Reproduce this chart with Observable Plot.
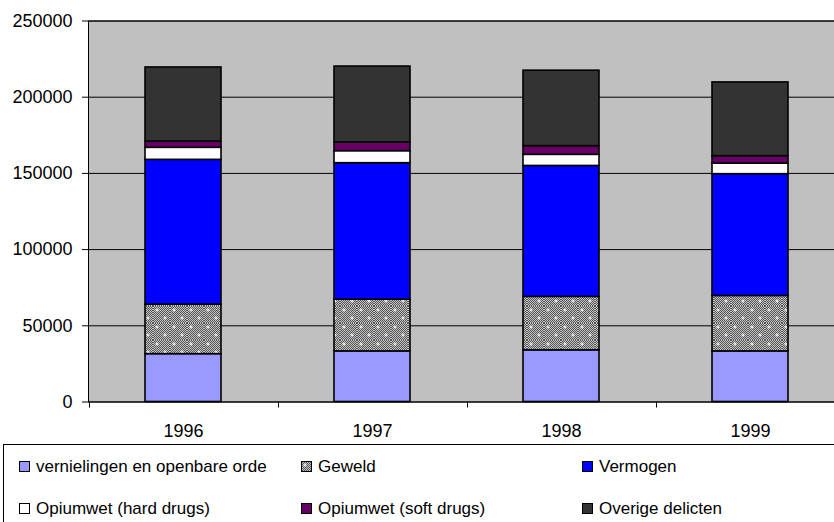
<!DOCTYPE html>
<html>
<head>
<meta charset="utf-8">
<script src="https://cdn.jsdelivr.net/npm/d3@7"></script>
<script src="https://cdn.jsdelivr.net/npm/@observablehq/plot@0.6"></script>
<style>
  html, body { margin: 0; padding: 0; background: #fff; }
  #wrap { position: relative; width: 834px; height: 522px; overflow: hidden; font-family: "Liberation Sans", Arial, sans-serif; }
  #chart { position: absolute; left: 0; top: 0; width: 844px; height: 444px; }
  #chart svg { max-width: none !important; display: block; }
  #legend { position: absolute; left: 3px; top: 444px; width: 900px; height: 100px; border: 1px solid #000; background: #fff; }
  .item { position: absolute; height: 11px; line-height: 11px; font-size: 17px; white-space: nowrap; display: flex; align-items: center; color: #000; }
  .item svg { display: block; margin-right: 6px; flex: none; }
</style>
</head>
<body>
<div id="wrap"><div id="chart"></div><div id="legend"></div></div>
<script>
const years = ["1996", "1997", "1998", "1999"];
const series = ["vernielingen en openbare orde", "Geweld", "Vermogen", "Opiumwet (hard drugs)", "Opiumwet (soft drugs)", "Overige delicten"];
const vernielingen = [31400, 33200, 33900, 33200];
const geweld = [32500, 34000, 35100, 36400];
const vermogen = [95000, 89500, 85900, 79900];
const hardDrugs = [7900, 7900, 7300, 6900];
const softDrugs = [4100, 5700, 5700, 4900];
const overige = [48600, 49800, 49500, 48400];
const yTicks = [0, 50000, 100000, 150000, 200000, 250000];
const colors = ["#9999FF", "url(#geweldPattern)", "#0000FF", "#FFFFFF", "#660066", "#333333"];

const seriesValues = [vernielingen, geweld, vermogen, hardDrugs, softDrugs, overige];
const rows = [];
series.forEach((s, si) => years.forEach((yr, yi) => rows.push({ year: yr, series: s, value: seriesValues[si][yi] })));

const plot = Plot.plot({
  width: 844,
  height: 444,
  marginLeft: 88,
  marginRight: 0,
  marginTop: 20.5,
  marginBottom: 42.5,
  style: { fontFamily: "'Liberation Sans', Arial, sans-serif", fontSize: "18px", color: "#000", background: "transparent", overflow: "visible", maxWidth: "none" },
  x: { domain: years, paddingInner: 0.6, paddingOuter: 0.3, align: 0.5, label: null, tickSize: 0, tickPadding: 22 },
  y: { domain: [0, 250000], ticks: yTicks, tickFormat: d3.format("d"), label: null, tickSize: 6, tickPadding: 10 },
  color: { domain: series, range: colors },
  marks: [
    Plot.frame({ fill: "#C0C0C0" }),
    Plot.ruleY(yTicks, { y: d => d, stroke: "#000", strokeWidth: 1 }),
    Plot.frame({ stroke: "#000", strokeWidth: 1 }),
    Plot.barY(rows, Plot.stackY({ x: "year", y: "value", fill: "series", order: series, stroke: "#000", strokeWidth: 1.6 }))
  ]
});

const svg = d3.select(plot);
svg.style("max-width", "none").style("height", "444px").style("width", "844px");
const defs = svg.insert("defs", ":first-child");
const chk = defs.append("pattern").attr("id", "checkerPattern").attr("patternUnits", "userSpaceOnUse").attr("width", 2).attr("height", 2);
chk.append("rect").attr("width", 2).attr("height", 2).attr("fill", "#c4c4c4");
chk.append("rect").attr("width", 1).attr("height", 1).attr("fill", "#555");
chk.append("rect").attr("x", 1).attr("y", 1).attr("width", 1).attr("height", 1).attr("fill", "#555");
const gp = defs.append("pattern").attr("id", "geweldPattern").attr("patternUnits", "userSpaceOnUse").attr("width", 17).attr("height", 17);
gp.append("rect").attr("width", 17).attr("height", 17).attr("fill", "url(#checkerPattern)");
[[4, 4], [12, 12]].forEach(([cx, cy]) => {
  gp.append("rect").attr("x", cx - 1.5).attr("y", cy - 0.5).attr("width", 3).attr("height", 1).attr("fill", "#fff");
  gp.append("rect").attr("x", cx - 0.5).attr("y", cy - 1.5).attr("width", 1).attr("height", 3).attr("fill", "#fff");
});

// x tick marks at category boundaries, derived from the band scale
const xs = plot.scale("x");
const ys = plot.scale("y");
const y0 = ys.apply(0);
const firstLeft = xs.apply(years[0]) - (xs.step - xs.bandwidth) / 2;
const tg = svg.append("g").attr("stroke", "#000").attr("stroke-width", 1);
for (let i = 0; i <= years.length; i++) {
  const xb = Math.round(firstLeft + i * xs.step) + 0.5;
  tg.append("line").attr("x1", xb).attr("x2", xb).attr("y1", y0).attr("y2", y0 + 6);
}

document.getElementById("chart").appendChild(plot);

// legend
const legend = document.getElementById("legend");
const colLeft = [15, 297, 578];
const rowTop = [16, 58];
series.forEach((s, i) => {
  const div = document.createElement("div");
  div.className = "item";
  div.style.left = colLeft[i % 3] + "px";
  div.style.top = rowTop[Math.floor(i / 3)] + "px";
  div.innerHTML = `<svg width="11" height="11"><rect x="0.5" y="0.5" width="10" height="10" fill="${colors[i]}" stroke="#000" stroke-width="1"/></svg><span>${s}</span>`;
  legend.appendChild(div);
});
</script>
</body>
</html>
